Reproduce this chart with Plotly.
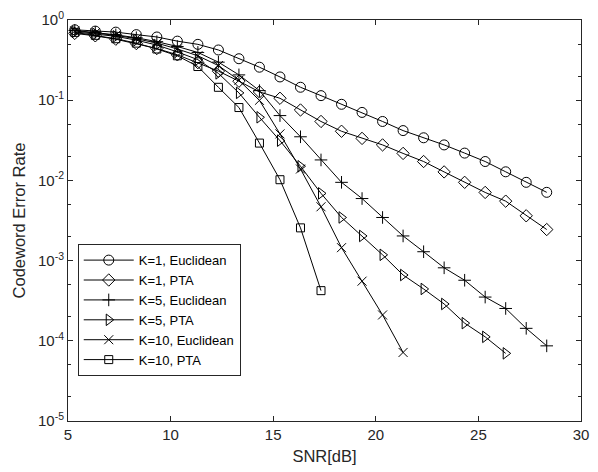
import plotly.graph_objects as go

# SNR grid (dB) shared by all curves
snr = [5.33, 6.33, 7.33, 8.33, 9.33, 10.33, 11.33, 12.33, 13.33, 14.33, 15.33, 16.33,
       17.33, 18.33, 19.33, 20.33, 21.33, 22.33, 23.33, 24.33, 25.33, 26.33, 27.33, 28.33]

# Codeword error rates
k1_euclid = [0.755, 0.727, 0.706, 0.657, 0.614, 0.545, 0.497, 0.423, 0.329, 0.258, 0.195, 0.145,
             0.114, 0.0889, 0.0704, 0.0543, 0.0418, 0.034, 0.0277, 0.0219, 0.0172, 0.0128, 0.00946, 0.0071]
k1_pta = [0.681, 0.635, 0.576, 0.508, 0.441, 0.368, 0.294, 0.2305, 0.1726, 0.1269, 0.1057, 0.0755,
          0.0543, 0.0410, 0.0334, 0.0277, 0.0217, 0.0172, 0.01276, 0.00946, 0.00708, 0.00551, 0.00362, 0.00244]
k5_euclid = [0.741, 0.701, 0.653, 0.601, 0.537, 0.467, 0.394, 0.298, 0.207, 0.1316, 0.0643, 0.035,
             0.0180, 0.00946, 0.00594, 0.00345, 0.00203, 0.00129, 0.000813, 0.000569, 0.000351, 0.000253,
             0.000143, 0.0000865]
k5_pta = [0.711, 0.672, 0.626, 0.560, 0.487, 0.400, 0.320, 0.216, 0.1234, 0.0612, 0.0313, 0.0150,
          0.00689, 0.00345, 0.00203, 0.00118, 0.000661, 0.000443, 0.000288, 0.000166, 0.000112, 0.0000697]
k10_euclid = [0.731, 0.691, 0.644, 0.584, 0.515, 0.435, 0.358, 0.270, 0.1775, 0.0995, 0.0380, 0.01387,
              0.00469, 0.00145, 0.000554, 0.000210, 0.0000716]
k10_pta = [0.701, 0.644, 0.584, 0.515, 0.435, 0.358, 0.263, 0.1448, 0.0810, 0.0292, 0.01020,
           0.00256, 0.000422]

series = [
    ("K=1, Euclidean", k1_euclid, "circle-open", 10),
    ("K=1, PTA", k1_pta, "diamond-open", 9.5),
    ("K=5, Euclidean", k5_euclid, "cross-thin-open", 9),
    ("K=5, PTA", k5_pta, "triangle-right-open", 10),
    ("K=10, Euclidean", k10_euclid, "x-thin-open", 9),
    ("K=10, PTA", k10_pta, "square-open", 8),
]

x_ticks = [5, 10, 15, 20, 25, 30]
y_tickvals = [1e-5, 1e-4, 1e-3, 1e-2, 1e-1, 1]
y_ticktext = ["10<sup>-5</sup>", "10<sup>-4</sup>", "10<sup>-3</sup>",
              "10<sup>-2</sup>", "10<sup>-1</sup>", "10<sup>0</sup>"]

ink = "#262626"
font = "Liberation Sans, Arial, sans-serif"

fig = go.Figure()
for name, vals, sym, size in series:
    fig.add_trace(go.Scatter(
        x=snr[:len(vals)], y=vals, name=name, mode="lines+markers",
        line=dict(color="black", width=1),
        marker=dict(symbol=sym, size=size, color="black", line=dict(color="black", width=1)),
    ))

axis_common = dict(
    showline=True, linecolor=ink, linewidth=1, mirror="allticks",
    ticks="inside", tickcolor=ink, ticklen=5, tickwidth=1,
    showgrid=False, zeroline=False, ticklabeloverflow="allow",
    tickfont=dict(family=font, size=15, color=ink),
)

fig.update_xaxes(
    range=[5, 30], tickvals=x_ticks,
    title=dict(text="SNR[dB]", font=dict(family=font, size=16.5, color=ink), standoff=8),
    **axis_common,
)
fig.update_yaxes(
    type="log", range=[-5, 0], tickvals=y_tickvals, ticktext=y_ticktext,
    minor=dict(ticks="inside", ticklen=3, tickcolor=ink, showgrid=False),
    title=dict(text="Codeword Error Rate", font=dict(family=font, size=16.5, color=ink), standoff=8),
    **axis_common,
)

fig.update_layout(
    width=598, height=472,
    margin=dict(l=68, r=9, t=9, b=51),
    paper_bgcolor="white", plot_bgcolor="white",
    showlegend=True,
    legend=dict(
        x=0.019, y=0.441, xanchor="left", yanchor="top",
        bgcolor="white", bordercolor=ink, borderwidth=1,
        font=dict(family=font, size=13, color="black"),
        itemwidth=50, tracegroupgap=0,
    ),
)

fig.write_html("out.html")
